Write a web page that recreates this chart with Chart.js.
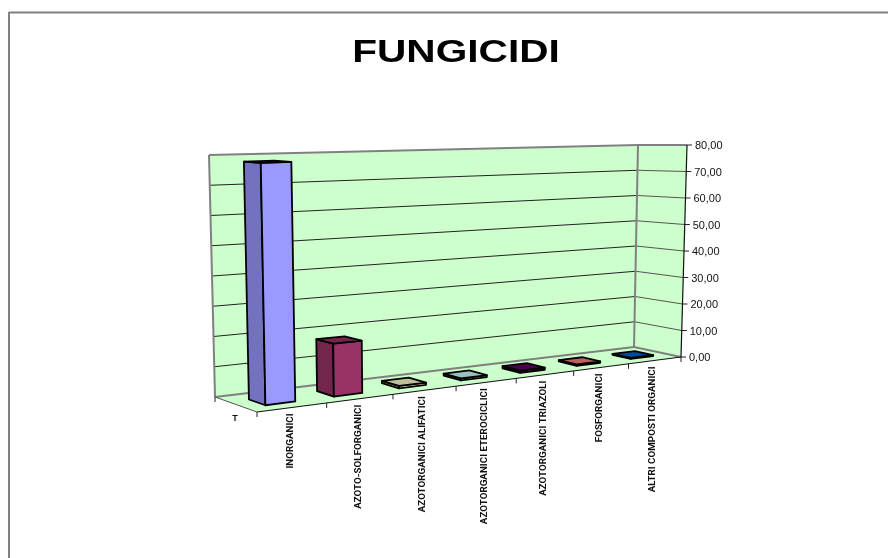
<!DOCTYPE html>
<html><head><meta charset="utf-8">
<style>html,body{margin:0;padding:0;background:#fff}canvas{display:block}</style>
<script src="https://cdn.jsdelivr.net/npm/chart.js@4/dist/chart.umd.js"></script>
</head><body>
<div style="width:888px;height:558px"><canvas id="c" width="888" height="558"></canvas></div>
<script>
const categories = ["INORGANICI","AZOTO-SOLFORGANICI","AZOTORGANICI ALIFATICI","AZOTORGANICI ETEROCICLICI","AZOTORGANICI TRIAZOLI","FOSFORGANICI","ALTRI COMPOSTI ORGANICI"];
const values = [78, 17.5, 0.8, 0.7, 0.8, 0.5, 0.4];
const faceColors = ["#9999FF","#993366","#FFFFCC","#CCFFFF","#660066","#FF8080","#0066CC"];
const sideColors = ["#7272BF","#72264C","#BFBF99","#99BFBF","#4C004C","#BF6060","#004C99"];
const seriesLabel = "T";

// cube corners [back/front][u][v]
const cube = {
  b00:[215,397], b10:[634,347], b11:[638,145], b01:[209,155],
  f00:[257,412], f10:[681,357], f11:[687,145], f01:[252,158]
};
const warp = u => 1.18*u/(1+0.18*u);
const lerp = (a,b,t)=>[a[0]+(b[0]-a[0])*t,a[1]+(b[1]-a[1])*t];
function P(u,v,d){
  const w = warp(u);
  const back = lerp(lerp(cube.b00,cube.b10,w),lerp(cube.b01,cube.b11,w),v);
  const front = lerp(lerp(cube.f00,cube.f10,w),lerp(cube.f01,cube.f11,w),v);
  return lerp(back,front,d);
}
function poly(ctx,pts,fill,stroke,lw){
  ctx.beginPath();
  pts.forEach((p,i)=>i?ctx.lineTo(p[0],p[1]):ctx.moveTo(p[0],p[1]));
  ctx.closePath();
  if(fill){ctx.fillStyle=fill;ctx.fill();}
  if(stroke){ctx.strokeStyle=stroke;ctx.lineWidth=lw;ctx.lineJoin='round';ctx.stroke();}
}
function seg(ctx,a,b,c,lw){ctx.beginPath();ctx.moveTo(a[0],a[1]);ctx.lineTo(b[0],b[1]);ctx.strokeStyle=c;ctx.lineWidth=lw;ctx.stroke();}

const D0=0.33, D1=0.72;
const proj = {
  id:'proj',
  beforeDraw(chart){
    const ctx=chart.ctx, {x:xs,y:ys}=chart.scales, area=chart.chartArea;
    xs._computeLabelArea=()=>undefined;
    ys._computeLabelArea=()=>undefined;
    ys.getLabelItems().forEach((it,i)=>{
      const v=(area.bottom-ys.getPixelForValue(ys.ticks[i].value))/(area.bottom-area.top);
      const p=P(1,v,1);
      it.options.translation=[p[0]+8,p[1]+1];
      it.options.textAlign='left';
      it.options.textBaseline='middle';
      it.textOffset=0;
    });
    xs.getLabelItems().forEach((it,i)=>{
      const c=(xs.getPixelForValue(i)-area.left)/(area.right-area.left);
      const p=P(c,0,1);
      it.options.translation=[p[0]-2,p[1]+6];
      it.options.textAlign='right';
      it.options.textBaseline='middle';
      it.options.rotation=-Math.PI/2;
      it.textOffset=0;
    });
    seg(ctx,[9,12.5],[888,12.5],'#808080',2);
    seg(ctx,[9,12],[9,558],'#808080',2);
  },
  beforeDatasetsDraw(chart){
    const ctx=chart.ctx,ys=chart.scales.y,area=chart.chartArea;
    poly(ctx,[P(0,0,0),P(1,0,0),P(1,1,0),P(0,1,0)],'#CCFFCC');
    poly(ctx,[P(1,0,0),P(1,0,1),P(1,1,1),P(1,1,0)],'#CCFFCC');
    poly(ctx,[P(0,0,0),P(1,0,0),P(1,0,1),P(0,0,1)],'#CCFFCC');
    ys.ticks.forEach(t=>{
      const v=(area.bottom-ys.getPixelForValue(t.value))/(area.bottom-area.top);
      if(v>0&&v<1){
        seg(ctx,P(0,v,0),P(1,v,0),'#222',1);
        seg(ctx,P(1,v,0),P(1,v,1),'#555',1);
      }
      const a=P(1,v,1);
      seg(ctx,[a[0],a[1]],[a[0]+5,a[1]],'#222',1);
    });
    const g='#808080';
    seg(ctx,P(0,0,0),P(0,1,0),g,2);
    seg(ctx,P(0,1,0),P(1,1,0),g,2);
    seg(ctx,P(1,1,0),P(1,1,1),g,2);
    seg(ctx,P(1,0,0),P(1,1,0),g,2);
    seg(ctx,P(0,0,0),P(1,0,0),g,2);
    seg(ctx,P(1,0,0),P(1,0,1),g,2);
    seg(ctx,P(0,0,0),P(0,0,1),'#555',1);
    seg(ctx,P(0,0,1),P(1,0,1),'#111',1.2);
    seg(ctx,P(1,0,1),P(1,1,1),'#111',1.2);
    for(let i=0;i<=categories.length;i++){
      const a=P(i/categories.length,0,1);
      seg(ctx,a,[a[0],a[1]+5],'#222',1);
    }
    const a=P(0,0,0);
    seg(ctx,a,[a[0],a[1]+5],'#222',1);
    ctx.save();
    ctx.font='bold 9px "Liberation Sans"';
    ctx.fillStyle='#111';
    ctx.textAlign='center';
    ctx.textBaseline='middle';
    ctx.fillText(seriesLabel,235,419);
    ctx.restore();
  },
  beforeDatasetDraw(chart,args){
    const ctx=chart.ctx, area=chart.chartArea, W=area.right-area.left, H=area.bottom-area.top;
    args.meta.data.forEach((el,i)=>{
      const ul=(el.x-el.width/2-area.left)/W, ur=(el.x+el.width/2-area.left)/W;
      const v=(area.bottom-el.y)/H;
      const ink='#000', lw=1.8;
      poly(ctx,[P(ul,0,D0),P(ul,0,D1),P(ul,v,D1),P(ul,v,D0)],sideColors[i],ink,lw);
      poly(ctx,[P(ul,0,D1),P(ur,0,D1),P(ur,v,D1),P(ul,v,D1)],faceColors[i],ink,lw);
      poly(ctx,[P(ul,v,D0),P(ur,v,D0),P(ur,v,D1),P(ul,v,D1)],sideColors[i],ink,lw);
    });
    return false;
  },
  afterLayout(chart){
    const tb=chart.titleBlock;
    if(tb && !tb._wrapped){
      tb._wrapped=true;
      const orig=tb.draw.bind(tb);
      tb.draw=function(){
        const ctx=chart.ctx, c=(tb.left+tb.right)/2;
        ctx.save();
        ctx.translate(456,0);ctx.scale(1.31,1);ctx.translate(-c,0);
        orig();
        ctx.restore();
      };
    }
  }
};

new Chart(document.getElementById('c'),{
  type:'bar',
  data:{labels:categories,datasets:[{label:'FUNGICIDI',data:values,backgroundColor:faceColors,borderColor:'#000',borderWidth:1,barPercentage:0.43,categoryPercentage:1}]},
  plugins:[proj],
  options:{
    responsive:false,animation:false,events:[],
    layout:{padding:{left:200,right:100,top:0,bottom:0}},
    plugins:{
      legend:{display:false},tooltip:{enabled:false},
      title:{display:true,text:'FUNGICIDI',color:'#000',align:'center',
        font:{family:'"Liberation Sans"',size:31,weight:'bold'},padding:{top:35,bottom:60}}
    },
    scales:{
      x:{grid:{display:false},border:{display:false},
        ticks:{autoSkip:false,minRotation:90,maxRotation:90,color:'#111',font:{family:'Roboto',size:9.8,weight:'bold'}}},
      y:{position:'right',min:0,max:80,grid:{display:false},border:{display:false},
        ticks:{stepSize:10,color:'#111',font:{family:'"Liberation Sans"',size:11},callback:v=>v.toFixed(2).replace('.',',')}}
    }
  }
});
</script>
</body></html>
